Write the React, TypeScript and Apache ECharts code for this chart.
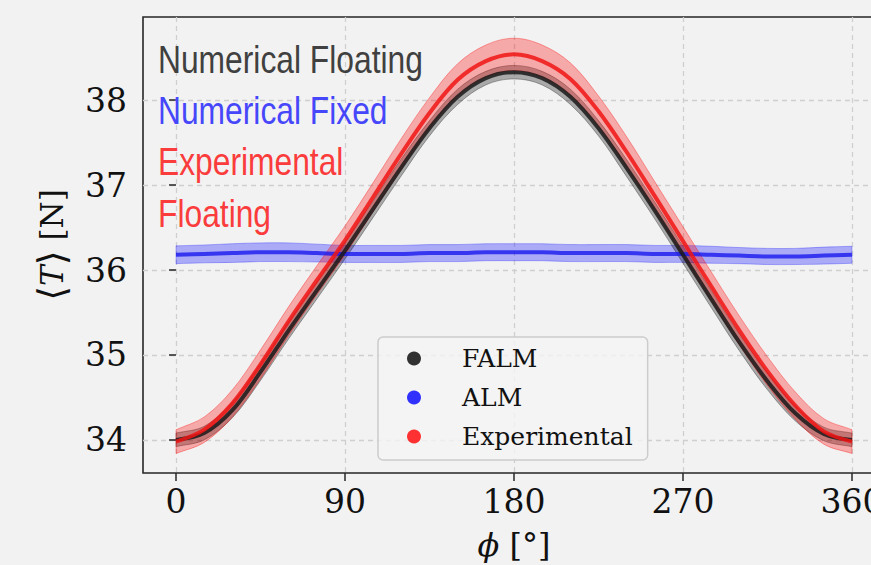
import React, { useEffect, useRef } from "react";
import * as echarts from "echarts";

// ---- data ----
const PHI = [0, 15, 30, 45, 60, 75, 90, 105, 120, 135, 150, 165, 180, 195, 210, 225, 240, 255, 270, 285, 300, 315, 330, 345, 360];

// FALM (Numerical Floating)
const FALM = [34.0, 34.08, 34.35, 34.8, 35.29, 35.76, 36.23, 36.72, 37.21, 37.67, 38.04, 38.26, 38.33, 38.26, 38.04, 37.67, 37.2, 36.7, 36.18, 35.66, 35.15, 34.69, 34.31, 34.07, 34.0];
const FALM_ERR = [0.08, 0.08, 0.09, 0.1, 0.1, 0.1, 0.1, 0.1, 0.1, 0.09, 0.09, 0.08, 0.08, 0.08, 0.09, 0.09, 0.1, 0.1, 0.1, 0.1, 0.1, 0.1, 0.09, 0.08, 0.08];

// ALM (Numerical Fixed)
const ALM = [36.18, 36.19, 36.2, 36.21, 36.21, 36.2, 36.19, 36.19, 36.19, 36.2, 36.2, 36.21, 36.21, 36.21, 36.2, 36.2, 36.2, 36.19, 36.19, 36.18, 36.17, 36.16, 36.16, 36.17, 36.18];
const ALM_ERR = [0.105, 0.105, 0.11, 0.11, 0.11, 0.105, 0.1, 0.1, 0.1, 0.1, 0.1, 0.1, 0.1, 0.1, 0.1, 0.1, 0.1, 0.1, 0.1, 0.1, 0.095, 0.095, 0.095, 0.1, 0.1];

// Experimental (Floating)
const EXP = [33.98, 34.12, 34.43, 34.89, 35.4, 35.88, 36.35, 36.86, 37.37, 37.85, 38.24, 38.46, 38.54, 38.46, 38.25, 37.87, 37.39, 36.87, 36.34, 35.81, 35.29, 34.81, 34.4, 34.1, 33.98];
const EXP_ERR = [0.14, 0.15, 0.16, 0.17, 0.17, 0.17, 0.17, 0.17, 0.18, 0.18, 0.19, 0.19, 0.19, 0.19, 0.19, 0.18, 0.18, 0.17, 0.17, 0.17, 0.17, 0.17, 0.16, 0.15, 0.14];

const X_TICKS = [0, 90, 180, 270, 360];
const Y_TICKS = [34, 35, 36, 37, 38];
const X_RANGE = [-17.6, 377.6];
const Y_RANGE = [33.61, 38.98];

const LEGEND_NAMES = ["FALM", "ALM", "Experimental"];
const NOTES = ["Numerical Floating", "Numerical Fixed", "Experimental", "Floating"];

// ---- layout / style ----
const W = 871;
const H = 565;
const PL = 143;
const PT = 17;
const PW = 742;
const PH = 456;
const BG = "#f2f2f2";
const SERIF = "'DejaVu Serif', serif";
const SANS = "'Liberation Sans', Arial, sans-serif";
const SMOOTH = 0.35;

const fx = (v: number) => PL + ((v - X_RANGE[0]) / (X_RANGE[1] - X_RANGE[0])) * PW;
const fy = (v: number) => PT + ((Y_RANGE[1] - v) / (Y_RANGE[1] - Y_RANGE[0])) * PH;

function bandSeries(center: number[], err: number[], fill: string, edge: string, line: string, lineWidth: number) {
  const rows = PHI.map((x, i) => [x, center[i] - err[i], center[i] + err[i]]);
  const mid = PHI.map((x, i) => [x, center[i]]);
  return [
    {
      type: "custom",
      xAxisIndex: 0,
      yAxisIndex: 0,
      data: rows,
      encode: { x: 0, y: [1, 2] },
      silent: true,
      clip: true,
      renderItem: (params: any, api: any) => {
        if (params.dataIndex !== 0) return null;
        const upper = rows.map((r) => api.coord([r[0], r[2]]));
        const lower = rows.map((r) => api.coord([r[0], r[1]])).reverse();
        // repeat the end vertices so the smoothing keeps square band ends
        const pts = [upper[0], ...upper, upper[upper.length - 1], lower[0], ...lower, lower[lower.length - 1]];
        return {
          type: "polygon",
          shape: { points: pts, smooth: SMOOTH },
          style: { fill, stroke: edge, lineWidth: 1 },
        };
      },
    },
    {
      type: "line",
      xAxisIndex: 0,
      yAxisIndex: 0,
      data: mid,
      smooth: SMOOTH,
      symbol: "none",
      silent: true,
      lineStyle: { width: lineWidth, color: line },
    },
  ];
}

export default function App() {
  const ref = useRef<HTMLDivElement>(null);

  useEffect(() => {
    document.body.style.margin = "0";
    document.body.style.background = BG;
    const chart = echarts.init(ref.current!, null, { renderer: "svg", width: W, height: H });

    const gx0 = fx(X_TICKS[0]);
    const gx1 = fx(X_TICKS[X_TICKS.length - 1]);
    const gy0 = fy(Y_TICKS[Y_TICKS.length - 1]);
    const gy1 = fy(Y_TICKS[0]);

    const noteColors = ["#404040", "#4646fa", "#fa3c3c", "#fa3c3c"];
    const noteY = [60, 111, 162, 214];

    const option: any = {
      animation: false,
      backgroundColor: BG,
      grid: [
        { left: PL, top: PT, width: PW, height: PH, show: true, borderColor: "#262626", borderWidth: 1.6, backgroundColor: "transparent", outerBoundsMode: "none", containLabel: false },
        { left: gx0, top: PT, width: gx1 - gx0, height: PH, outerBoundsMode: "none", containLabel: false },
        { left: PL, top: gy0, width: PW, height: gy1 - gy0, outerBoundsMode: "none", containLabel: false },
      ],
      xAxis: [
        {
          type: "value",
          gridIndex: 0,
          min: X_RANGE[0],
          max: X_RANGE[1],
          axisLine: { show: false },
          axisTick: { show: false },
          axisLabel: { show: false },
          splitLine: { show: false },
          name: "{i|ϕ} [°]",
          nameLocation: "middle",
          nameGap: 56,
          nameTextStyle: {
            fontFamily: SERIF,
            fontSize: 32,
            color: "#111",
            rich: { i: { fontFamily: SERIF, fontStyle: "italic", fontSize: 32, color: "#111" } },
          },
        },
        {
          type: "value",
          gridIndex: 1,
          min: X_TICKS[0],
          max: X_TICKS[X_TICKS.length - 1],
          interval: X_TICKS[1] - X_TICKS[0],
          axisLine: { show: false },
          axisTick: { show: true, inside: false, length: 8, lineStyle: { color: "#262626", width: 1.5 } },
          axisLabel: { show: true, fontFamily: SERIF, fontSize: 33, color: "#111", margin: 12 },
          splitLine: { show: true, lineStyle: { color: "#cfcfcf", width: 1.3, type: [5, 4] } },
        },
        {
          type: "value",
          gridIndex: 2,
          show: false,
          min: X_RANGE[0],
          max: X_RANGE[1],
        },
      ],
      yAxis: [
        {
          type: "value",
          gridIndex: 0,
          min: Y_RANGE[0],
          max: Y_RANGE[1],
          axisLine: { show: false },
          axisTick: { show: false },
          axisLabel: { show: false },
          splitLine: { show: false },
          name: "{a|⟨}{i|T}{a|⟩} [N]",
          nameLocation: "middle",
          nameRotate: 90,
          nameGap: 72,
          nameTextStyle: {
            fontFamily: SERIF,
            fontSize: 31,
            color: "#111",
            rich: {
              a: { fontFamily: SERIF, fontSize: 38, color: "#111" },
              i: { fontFamily: SERIF, fontStyle: "italic", fontSize: 31, color: "#111" },
            },
          },
        },
        {
          type: "value",
          gridIndex: 1,
          show: false,
          min: Y_RANGE[0],
          max: Y_RANGE[1],
        },
        {
          type: "value",
          gridIndex: 2,
          min: Y_TICKS[0],
          max: Y_TICKS[Y_TICKS.length - 1],
          interval: Y_TICKS[1] - Y_TICKS[0],
          axisLine: { show: false },
          axisTick: { show: true, inside: false, length: 7, lineStyle: { color: "#262626", width: 1.5 } },
          axisLabel: { show: true, fontFamily: SERIF, fontSize: 33, color: "#111", margin: 16 },
          splitLine: { show: true, lineStyle: { color: "#cfcfcf", width: 1.3, type: [5, 4] } },
        },
      ],
      legend: {
        data: LEGEND_NAMES,
        orient: "vertical",
        left: 378,
        top: 337,
        icon: "circle",
        itemWidth: 14,
        itemHeight: 14,
        itemGap: 14,
        selectedMode: false,
        padding: [9, 15, 11, 29],
        backgroundColor: "rgba(244,244,244,0.8)",
        borderColor: "#cccccc",
        borderWidth: 1.5,
        borderRadius: 5,
        textStyle: { fontFamily: SERIF, fontSize: 25, lineHeight: 25, color: "#111", padding: [0, 0, 0, 36] },
      },
      graphic: NOTES.map((t, i) => ({
        type: "text",
        x: 158,
        y: noteY[i],
        scaleX: 0.815,
        z: 10,
        style: { text: t, font: `39px ${SANS}`, fill: noteColors[i], verticalAlign: "middle", align: "left" },
      })),
      series: [
        ...bandSeries(ALM, ALM_ERR, "rgba(20,20,255,0.32)", "rgba(40,40,255,0.35)", "rgba(25,25,240,0.8)", 4),
        ...bandSeries(FALM, FALM_ERR, "rgba(0,0,0,0.3)", "rgba(0,0,0,0.3)", "rgba(25,25,25,0.85)", 4),
        ...bandSeries(EXP, EXP_ERR, "rgba(255,0,0,0.3)", "rgba(255,0,0,0.35)", "rgba(240,20,20,0.85)", 4),
        { type: "scatter", name: LEGEND_NAMES[0], xAxisIndex: 0, yAxisIndex: 0, data: [], itemStyle: { color: "#000000" } },
        { type: "scatter", name: LEGEND_NAMES[1], xAxisIndex: 0, yAxisIndex: 0, data: [], itemStyle: { color: "#0000ff" } },
        { type: "scatter", name: LEGEND_NAMES[2], xAxisIndex: 0, yAxisIndex: 0, data: [], itemStyle: { color: "#ff0000" } },
      ],
    };

    chart.setOption(option);
    return () => chart.dispose();
  }, []);

  return <div ref={ref} style={{ position: "absolute", left: 0, top: 0, width: W, height: H, background: BG }} />;
}
